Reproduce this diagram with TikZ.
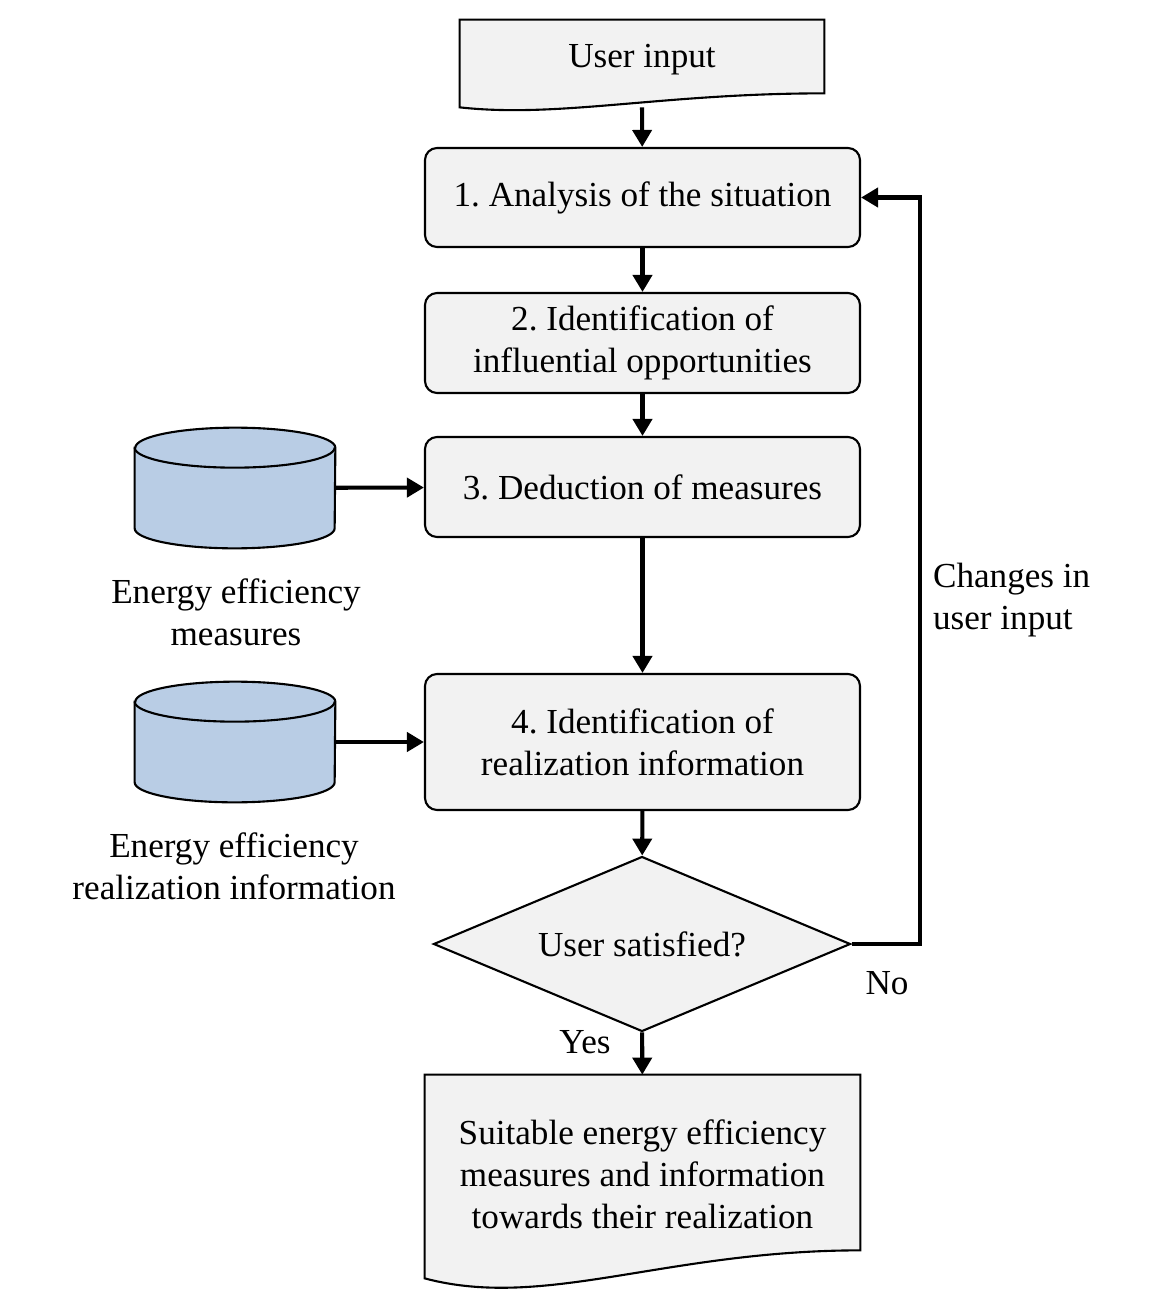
\documentclass[tikz,border=0pt]{standalone}
\usepackage{fontspec}
\setmainfont{Liberation Serif}
\usetikzlibrary{arrows.meta,shapes.geometric,backgrounds}
\definecolor{boxgray}{HTML}{F2F2F2}
\definecolor{dbblue}{HTML}{B9CDE5}
\frenchspacing
\newcommand{\dbcylinder}[1]{%
  \draw[db] ([yshift=-0.4cm]#1.north west) -- ([yshift=0.4cm]#1.south west)
    arc[start angle=180,end angle=360,x radius=2cm,y radius=0.4cm]
    -- ([yshift=-0.4cm]#1.north east)
    arc[start angle=0,end angle=180,x radius=2cm,y radius=0.4cm] -- cycle;
  \draw[dbline] ([yshift=-0.4cm]#1.north west)
    arc[start angle=180,end angle=360,x radius=2cm,y radius=0.4cm];}

\begin{document}
\begin{tikzpicture}[
font=\fontsize{20}{24}\selectfont,
stepbox/.style={draw,rounded corners=0.24cm,fill=boxgray,line width=1.2pt,minimum width=8.7cm,align=center},
docbox/.style={inner sep=0pt,align=center},
docfill/.style={draw,fill=boxgray,line width=1.2pt},
decision/.style={diamond,draw,fill=boxgray,line width=1.2pt,aspect=2.38,minimum width=8.34cm,minimum height=3.5cm,inner sep=0pt},
dbnode/.style={minimum width=4cm,minimum height=2.4cm,inner sep=0pt},
db/.style={draw,fill=dbblue,line width=1.2pt},
dbline/.style={draw,line width=1.2pt},
note/.style={align=center,inner sep=1pt},
arrow/.style={-{Triangle[length=0.34cm,width=0.38cm]},line width=2.3pt} ]

\useasboundingbox (0,0) rectangle (23.12,-26.32);

\node[docbox,minimum width=7.28cm,minimum height=1.6cm](uin) at (12.84,-1.2) {User input};

\node[stepbox,minimum height=1.98cm](s1) at (12.85,-3.95) {1. Analysis of the situation};

\node[stepbox,minimum height=2cm](s2) at (12.85,-6.86) {2. Identification of\\influential opportunities};

\node[stepbox,minimum height=2cm](s3) at (12.85,-9.74) {3. Deduction of measures};

\node[stepbox,minimum height=2.72cm](s4) at (12.85,-14.84) {4. Identification of\\realization information};

\node[decision](dec) at (12.84,-18.88) {User satisfied?};

\node[docbox,minimum width=8.7cm,minimum height=3.96cm](out) at (12.85,-23.48) {Suitable energy efficiency\\measures and information\\towards their realization};

\node[dbnode](db1) at (4.7,-9.76) {};

\node[dbnode](db2) at (4.7,-14.84) {};

\node[note](n1) at (4.72,-12.24) {Energy efficiency\\measures};

\node[note](n2) at (4.68,-17.32) {Energy efficiency\\realization information};

\node[note,anchor=west,align=left](chg) at (18.62,-12.0) {Changes in\\user input};

\node[note](no) at (17.74,-19.66) {No};

\node[note](yes) at (11.7,-20.84) {Yes};

\begin{scope}[on background layer]
\path[docfill] (uin.north west) -- (uin.north east) -- ([yshift=0.14cm]uin.south east)
  .. controls +(-3.28,0) and +(2.0,-0.22) .. ([yshift=-0.14cm]uin.south west) -- cycle;
\path[docfill] (out.north west) -- (out.north east) -- ([yshift=0.46cm]out.south east)
  .. controls +(-3.9,0) and +(2.4,-0.64) .. ([yshift=-0.1cm]out.south west) -- cycle;
\end{scope}

\dbcylinder{db1}
\dbcylinder{db2}

\draw[arrow] ([yshift=-0.14cm]uin.south) -- (s1);

\draw[arrow] (s1) -- (s2);

\draw[arrow] (s2) -- (s3);

\draw[arrow] (s3) -- (s4);

\draw[arrow] (s4) -- (dec);

\draw[arrow] (dec) -- (out);

\draw[arrow] (db1) -- (s3);

\draw[arrow] (db2) -- (s4);

\draw[arrow] (dec.east) -- ++(1.36,0) |- (s1.east);
\end{tikzpicture}
\end{document}
